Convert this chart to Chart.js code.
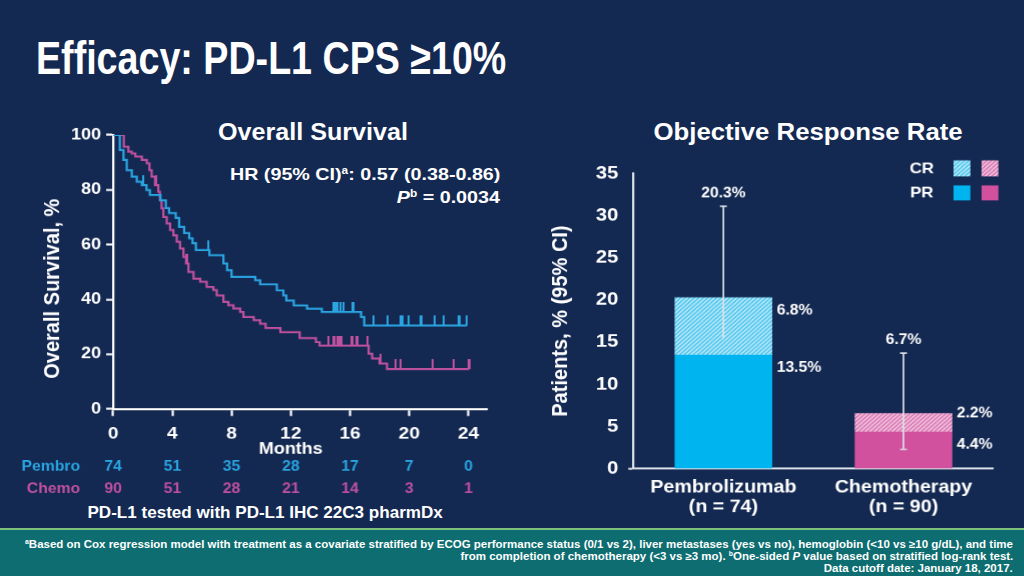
<!DOCTYPE html>
<html>
<head>
<meta charset="utf-8">
<script src="https://cdn.jsdelivr.net/npm/chart.js@4.4.1/dist/chart.umd.min.js"></script>
<style>
  html, body { margin: 0; padding: 0; }
  body {
    width: 1024px; height: 576px; position: relative; overflow: hidden;
    background: #142952; color: #fff;
    font-family: "Liberation Sans", Arial, Helvetica, sans-serif;
  }
  .t { position: absolute; white-space: nowrap; line-height: 1; font-weight: bold; }
  .sup { font-size: 0.6em; position: relative; top: -0.5em; }
  canvas { position: absolute; transform-origin: 0 0; transform: scaleX(1.12); }
  #km { left: 0; top: 110px; }
  #orr { left: 530px; top: 150px; }
  #footer {
    position: absolute; left: 0; top: 528px; width: 1024px; height: 46px;
    background: #0d6d70; border-top: 2px solid #7cc07a;
  }
  .fn { font-size: 10.5px; }
</style>
</head>
<body>
<div id="title" class="t" style="font-size:47px">Efficacy: PD-L1 CPS ≥10%</div>
<div id="osTitle" class="t" style="font-size:23px">Overall Survival</div>
<div id="orrTitle" class="t" style="font-size:23px">Objective Response Rate</div>
<div id="hr1" class="t" style="font-size:17px">HR (95% CI)<span class="sup">a</span>: 0.57 (0.38-0.86)</div>
<div id="hr2" class="t" style="font-size:17px"><i>P</i><span class="sup">b</span> = 0.0034</div>
<div id="assay" class="t" style="font-size:17px">PD-L1 tested with PD-L1 IHC 22C3 pharmDx</div>
<div id="footer"></div>
<div id="fn1" class="t fn"><span class="sup">a</span>Based on Cox regression model with treatment as a covariate stratified by ECOG performance status (0/1 vs 2), liver metastases (yes vs no), hemoglobin (&lt;10 vs ≥10 g/dL), and time</div>
<div id="fn2" class="t fn">from completion of chemotherapy (&lt;3 vs ≥3 mo). <span class="sup">b</span>One-sided <i>P</i> value based on stratified log-rank test.</div>
<div id="fn3" class="t fn">Data cutoff date: January 18, 2017.</div>
<canvas id="km" width="464" height="400"></canvas>
<canvas id="orr" width="438" height="380"></canvas>
<script>
// ---- overall survival (Kaplan-Meier) ----
const monthTicks = [0, 4, 8, 12, 16, 20, 24];
const survivalTicks = [0, 20, 40, 60, 80, 100];
const pembroTimes = [0, 0.45, 0.7, 0.92, 1.26, 1.6, 1.94, 2.25, 2.48, 3.2, 3.56, 3.78, 4.23, 4.46, 4.8, 5.14, 5.36, 5.59, 6.5, 7.45,
  7.7, 8.0, 9.6, 9.93, 11.06, 11.5, 11.7, 12.2, 13.1, 14.1, 16.75, 16.96, 23.9];
const pembroSurv = [100, 94.5, 90.9, 87.2, 84.8, 82.9, 81.7, 79.9, 78.1, 76.2, 73.3, 71.5, 69.7, 66.5, 64.2, 62.3, 60.5, 58.0, 56.1, 53.1,
  50.7, 48.2, 47.0, 45.5, 43.3, 41.5, 39.6, 37.8, 36.6, 35.4, 33.6, 30.5, 30.5];
const chemoTimes = [0, 0.72, 1.03, 1.26, 1.5, 1.94, 2.27, 2.45, 2.6, 2.83, 3.05, 3.16, 3.27, 3.39, 3.62, 3.85, 4.07, 4.3, 4.52, 4.75,
  4.93, 5.09, 5.43, 5.88, 6.32, 6.77, 7.0, 7.45, 7.79, 8.13, 8.58, 8.8, 9.5, 9.93, 10.3, 11.3, 12.6, 13.7, 13.95, 17.26,
  17.5, 18.0, 18.5, 24.05];
const chemoSurv = [100, 95.7, 93.9, 93.3, 92.1, 90.9, 89.7, 87.2, 84.8, 81.7, 79.3, 76.2, 73.2, 70.1, 67.7, 65.3, 63.4, 61.0, 58.6, 55.5,
  53.1, 50.0, 47.6, 46.4, 44.6, 43.4, 41.5, 39.1, 37.9, 36.7, 35.4, 33.6, 32.4, 31.1, 29.6, 28.0, 25.9, 24.4, 23.1, 20.2,
  18.4, 16.6, 14.6, 14.6];
const pembroCensored = [0.13, 2.05, 6.44, 14.9, 15.0, 15.15, 15.35, 15.55, 16.2, 17.58, 18.55, 19.4, 19.55, 19.98, 20.8, 21.7, 22.33, 23.38, 23.9];
const chemoCensored = [0.68, 2.89, 4.97, 14.56, 14.92, 15.15, 15.32, 15.42, 16.14, 16.48, 17.2, 18.06, 19.06, 19.4, 21.6, 23.0, 24.05];
const pembroAtRisk = [74, 51, 35, 28, 17, 7, 0];
const chemoAtRisk = [90, 51, 28, 21, 14, 3, 1];

// ---- objective response rate ----
const armLabels = [['Pembrolizumab', '(n = 74)'], ['Chemotherapy', '(n = 90)']];
const prValues = [13.5, 4.4];
const crValues = [6.8, 2.2];
const orrValues = [20.3, 6.7];
const ciLow = [15.4, 2.3];
const ciHigh = [31.1, 13.7];
const ciLowCap = [false, true];
const responseTicks = [0, 5, 10, 15, 20, 25, 30, 35];

const FONT = '"Liberation Sans", Arial, Helvetica, sans-serif';
const S = 1.12; // slide text is a little wider than tall, canvases are stretched by this
const WHITE = '#ffffff';
const AXIS = '#dde1e8';
const PEMBRO = '#2aa5e2';
const CHEMO = '#c0519f';
const CYAN = '#00b4f0';
const PINK = '#d2519f';

Chart.defaults.font.family = FONT;
Chart.defaults.color = WHITE;

function survAt(times, surv, t) {
  let s = surv[0];
  for (let i = 0; i < times.length; i++) if (times[i] <= t) s = surv[i];
  return s;
}

function censorMark(color) {
  const c = document.createElement('canvas');
  c.width = 2; c.height = 20;
  const g = c.getContext('2d');
  g.fillStyle = color;
  g.fillRect(0, 0, 2, 10);
  return c;
}

const riskTable = {
  id: 'riskTable',
  afterDraw(chart) {
    const { ctx, chartArea, scales: { x } } = chart;
    ctx.save();
    ctx.textBaseline = 'middle';
    ctx.textAlign = 'center';
    ctx.fillStyle = WHITE;
    ctx.font = 'bold 16px ' + FONT;
    ctx.fillText('Months', x.getPixelForValue(12), chartArea.bottom + 40);
    ctx.font = 'bold 14px ' + FONT;
    [['Pembro', pembroAtRisk, PEMBRO, 58], ['Chemo', chemoAtRisk, CHEMO, 80]].forEach(([name, counts, color, dy]) => {
      const y = chartArea.bottom + dy;
      ctx.fillStyle = color;
      ctx.textAlign = 'right';
      ctx.fillText(name, chartArea.left - 29.5, y);
      ctx.textAlign = 'center';
      counts.forEach((n, i) => ctx.fillText(String(n), x.getPixelForValue(monthTicks[i]), y));
    });
    ctx.restore();
  }
};

new Chart(document.getElementById('km'), {
  type: 'line',
  data: {
    datasets: [
      {
        label: 'Pembro',
        data: pembroTimes.map((t, i) => ({ x: t, y: pembroSurv[i] })),
        stepped: true, borderColor: PEMBRO, borderWidth: 2, pointRadius: 0, fill: false
      },
      {
        label: 'Chemo',
        data: chemoTimes.map((t, i) => ({ x: t, y: chemoSurv[i] })),
        stepped: true, borderColor: CHEMO, borderWidth: 2, pointRadius: 0, fill: false
      },
      {
        label: 'Pembro censored',
        data: pembroCensored.map(t => ({ x: t, y: survAt(pembroTimes, pembroSurv, t) })),
        showLine: false, pointStyle: censorMark(PEMBRO), pointRadius: 3
      },
      {
        label: 'Chemo censored',
        data: chemoCensored.map(t => ({ x: t, y: survAt(chemoTimes, chemoSurv, t) })),
        showLine: false, pointStyle: censorMark(CHEMO), pointRadius: 3
      }
    ]
  },
  options: {
    responsive: false,
    devicePixelRatio: S,
    animation: false,
    events: [],
    layout: { padding: { top: 25, right: 29.2, bottom: 56, left: 0 } },
    plugins: { legend: { display: false }, tooltip: { enabled: false } },
    scales: {
      x: {
        type: 'linear', min: 0, max: 25.3,
        afterBuildTicks: s => { s.ticks = monthTicks.map(v => ({ value: v })); },
        afterFit: s => { s.height = 45; },
        grid: { display: true, drawOnChartArea: false, drawTicks: true, tickLength: 7, tickWidth: 2, tickColor: WHITE },
        border: { display: true, color: WHITE, width: 2 },
        ticks: { color: WHITE, font: { size: 17, weight: 'bold' }, padding: 7.8, maxRotation: 0, autoSkip: false }
      },
      y: {
        min: 0, max: 100,
        afterBuildTicks: s => { s.ticks = survivalTicks.map(v => ({ value: v })); },
        afterFit: s => { s.width = 100.9; },
        grid: { display: true, drawOnChartArea: false, drawTicks: true, tickLength: 6.25, tickWidth: 2, tickColor: WHITE },
        border: { display: true, color: WHITE, width: 2 },
        ticks: { color: WHITE, font: { size: 16, weight: 'bold' }, padding: 4.5 },
        title: {
          display: true, text: 'Overall Survival, %      ', color: WHITE,
          font: { size: 20, weight: 'bold' }, padding: { top: 35.6, bottom: 0 }
        }
      }
    }
  },
  plugins: [riskTable]
});

// ---- ORR bars ----
const orrCanvas = document.getElementById('orr');
const orrCtx = orrCanvas.getContext('2d');

function hatch(base, line) {
  const c = document.createElement('canvas');
  c.width = 4; c.height = 4;
  const g = c.getContext('2d');
  g.fillStyle = base;
  g.fillRect(0, 0, 4, 4);
  g.strokeStyle = line;
  g.lineWidth = 1.3;
  g.beginPath();
  g.moveTo(0, 4); g.lineTo(4, 0);
  g.moveTo(-1, 1); g.lineTo(1, -1);
  g.moveTo(3, 5); g.lineTo(5, 3);
  g.stroke();
  return orrCtx.createPattern(c, 'repeat');
}
const CYAN_HATCH = hatch('#2fbdec', '#e4f6fc');
const PINK_HATCH = hatch('#d45ea6', '#f8e4f0');

const orrExtras = {
  id: 'orrExtras',
  afterDatasetsDraw(chart) {
    const { ctx, chartArea, scales: { y } } = chart;
    const prBars = chart.getDatasetMeta(0).data;
    const crBars = chart.getDatasetMeta(1).data;
    ctx.save();
    prBars.forEach((bar, i) => {
      const x = bar.x;
      const top = y.getPixelForValue(ciHigh[i]);
      const bottom = y.getPixelForValue(ciLow[i]);
      ctx.strokeStyle = AXIS;
      ctx.lineWidth = 1.5;
      ctx.beginPath();
      ctx.moveTo(x, top); ctx.lineTo(x, bottom);
      ctx.moveTo(x - 3.1, top); ctx.lineTo(x + 3.1, top);
      if (ciLowCap[i]) { ctx.moveTo(x - 3.1, bottom); ctx.lineTo(x + 3.1, bottom); }
      ctx.stroke();

      ctx.fillStyle = WHITE;
      ctx.font = 'bold 14px ' + FONT;
      ctx.textBaseline = 'middle';
      ctx.textAlign = 'center';
      ctx.fillText(orrValues[i].toFixed(1) + '%', x, top - 13);
      ctx.textAlign = 'left';
      [[crBars[i], crValues[i]], [bar, prValues[i]]].forEach(([b, v]) => {
        const h = Math.abs(b.base - b.y);
        ctx.fillText(v.toFixed(1) + '%', b.x + b.width / 2 + 4, b.y + (h > 30 ? 13 : 0));
      });
    });

    // legend
    const r = chartArea.right, t = chartArea.top;
    ctx.fillStyle = WHITE;
    ctx.font = 'bold 15px ' + FONT;
    ctx.textAlign = 'center';
    ctx.fillText('CR', r - 64, t - 4);
    ctx.fillText('PR', r - 64, t + 19.5);
    ctx.fillStyle = CYAN_HATCH; ctx.fillRect(r - 35.7, t - 13, 15, 16);
    ctx.fillStyle = PINK_HATCH; ctx.fillRect(r - 10.7, t - 13, 15, 16);
    ctx.fillStyle = CYAN; ctx.fillRect(r - 35.7, t + 12, 15, 15);
    ctx.fillStyle = PINK; ctx.fillRect(r - 10.7, t + 12, 15, 15);
    ctx.restore();
  }
};

new Chart(orrCanvas, {
  type: 'bar',
  data: {
    labels: armLabels,
    datasets: [
      { label: 'PR', data: prValues, backgroundColor: [CYAN, PINK], barPercentage: 0.542, categoryPercentage: 1 },
      { label: 'CR', data: crValues, backgroundColor: [CYAN_HATCH, PINK_HATCH], barPercentage: 0.542, categoryPercentage: 1 }
    ]
  },
  options: {
    responsive: false,
    devicePixelRatio: S,
    animation: false,
    events: [],
    layout: { padding: { top: 23.3, right: 24.6, bottom: 3.7, left: 0 } },
    plugins: { legend: { display: false }, tooltip: { enabled: false } },
    scales: {
      x: {
        stacked: true,
        afterFit: s => { s.height = 58; },
        grid: { display: false, drawTicks: false },
        border: { display: true, color: AXIS, width: 2 },
        ticks: { color: WHITE, font: { size: 17.5, weight: 'bold', lineHeight: 1.143 }, padding: 8.7 }
      },
      y: {
        stacked: true, min: 0, max: 35,
        afterBuildTicks: s => { s.ticks = responseTicks.map(v => ({ value: v })); },
        afterFit: s => { s.width = 92.2; },
        grid: {
          display: true, drawOnChartArea: false, drawTicks: true, tickLength: 4.5, tickWidth: 2,
          tickColor: c => (c.tick && c.tick.value === 0 ? AXIS : 'rgba(0,0,0,0)')
        },
        border: { display: true, color: AXIS, width: 2 },
        ticks: { color: WHITE, font: { size: 18, weight: 'bold' }, padding: 8.9 },
        title: {
          display: true, text: 'Patients, % (95% CI)', color: WHITE,
          font: { size: 20, weight: 'bold' }, padding: { top: 15.7, bottom: 0 }
        }
      }
    }
  },
  plugins: [orrExtras]
});

// ---- slide text placement ----
function place(id, x, y, align, k) {
  const el = document.getElementById(id);
  const w = el.offsetWidth, h = el.offsetHeight;
  const left = align === 'left' ? x : align === 'right' ? x - w : x - w / 2;
  el.style.left = left + 'px';
  el.style.top = (y - h / 2) + 'px';
  el.style.transformOrigin = align === 'left' ? '0 50%' : align === 'right' ? '100% 50%' : '50% 50%';
  el.style.transform = 'scaleX(' + k + ')';
}
const widthOf = id => document.getElementById(id).offsetWidth;

place('title', 36, 57.5, 'left', 470 / widthOf('title'));
place('osTitle', 313, 132, 'center', 190 / widthOf('osTitle'));
place('orrTitle', 807.5, 132, 'center', 309 / widthOf('orrTitle'));
const kHr = 270 / widthOf('hr1');
place('hr1', 500, 174, 'right', kHr);
place('hr2', 500, 197, 'right', kHr);
place('assay', 264.5, 512, 'center', 355 / widthOf('assay'));
const kFn = 988 / widthOf('fn1');
place('fn1', 1013, 544, 'right', kFn);
place('fn2', 1013, 556, 'right', kFn);
place('fn3', 1013, 568, 'right', kFn);
</script>
</body>
</html>
